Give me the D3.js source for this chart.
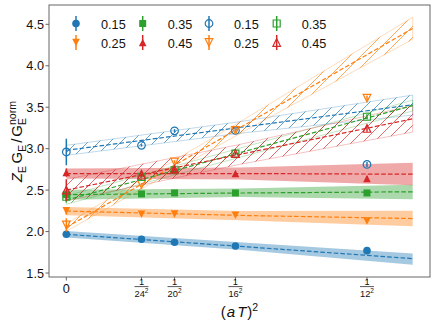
<!DOCTYPE html>
<html>
<head>
<meta charset="utf-8">
<script src="https://cdn.jsdelivr.net/npm/d3@7"></script>
<style>
  body { margin: 0; background: #fff; }
  text { font-family: "Liberation Sans", Arial, sans-serif; fill: #111; }
</style>
</head>
<body>
<div id="wrapper"></div>
<script>
// legend labels (temperatures) and lattice sizes
const tempLabels = ["0.15", "0.25", "0.35", "0.45"]
const latticeNt = [24, 20, 16, 12]
const tickNt = [24, 20, 16, 12]

const bandX = [0, 0.004, 0.008]

// solid markers: continuum value at 0, then Nt = 24, 20, 16, 12
const solidCont = [1.967, 2.250, 2.445, 2.712]
const solidContErr = [0.035, 0.045, 0.055, 0.05]
const solidVals = [
  [1.907, 1.871, 1.826, 1.770],
  [2.209, 2.210, 2.197, 2.128],
  [2.454, 2.466, 2.466, 2.466],
  [2.708, 2.740, 2.700, 2.640],
]
const solidErr = [
  [0.01, 0.01, 0.012, 0.015],
  [0.01, 0.01, 0.012, 0.02],
  [0.01, 0.01, 0.012, 0.015],
  [0.01, 0.012, 0.015, 0.03],
]
const solidFit = [
  [1.967, 1.822, 1.674],
  [2.247, 2.195, 2.157],
  [2.445, 2.465, 2.480],
  [2.700, 2.700, 2.692],
]
const solidLo = [
  [1.927, 1.780, 1.601],
  [2.197, 2.136, 2.064],
  [2.385, 2.418, 2.390],
  [2.640, 2.628, 2.560],
]
const solidHi = [
  [2.007, 1.870, 1.734],
  [2.297, 2.249, 2.250],
  [2.505, 2.520, 2.565],
  [2.760, 2.773, 2.830],
]

// open markers
const openCont = [2.96, 2.08, 2.42, 2.50]
const openContErr = [0.16, 0.08, 0.07, 0.13]
const openVals = [
  [3.040, 3.215, 3.220, 2.810],
  [2.570, 2.840, 3.220, 3.610],
  [2.660, 2.740, 2.940, 3.385],
  [2.680, 2.750, 2.940, 3.244],
]
const openErr = [
  [0.015, 0.02, 0.02, 0.03],
  [0.015, 0.02, 0.025, 0.03],
  [0.015, 0.02, 0.02, 0.03],
  [0.015, 0.02, 0.02, 0.04],
]
const openFit = [
  [2.980, 3.255, 3.530],
  [2.050, 3.250, 4.450],
  [2.380, 2.950, 3.520],
  [2.500, 2.930, 3.360],
]
const openLo = [
  [2.920, 3.185, 3.405],
  [2.005, 3.180, 4.320],
  [2.330, 2.895, 3.455],
  [2.370, 2.810, 3.200],
]
const openHi = [
  [3.040, 3.325, 3.646],
  [2.095, 3.320, 4.585],
  [2.430, 3.005, 3.585],
  [2.630, 3.050, 3.520],
]

const yTicks = [1.5, 2.0, 2.5, 3.0, 3.5, 4.0, 4.5]

const colors = ["#1f77b4", "#ff7f0e", "#2ca02c", "#d62728"]
const shapes = ["circle", "down", "square", "up"]

function drawChart() {
  const dimensions = {
    width: 436,
    height: 327,
    margin: { top: 5, right: 6, bottom: 50, left: 49 },
  }
  dimensions.boundedWidth = dimensions.width - dimensions.margin.left - dimensions.margin.right
  dimensions.boundedHeight = dimensions.height - dimensions.margin.top - dimensions.margin.bottom

  const wrapper = d3.select("#wrapper")
    .append("svg")
      .attr("width", dimensions.width)
      .attr("height", dimensions.height)

  const defs = wrapper.append("defs")
  colors.forEach((c, i) => {
    const p = defs.append("pattern")
      .attr("id", "hatch" + i)
      .attr("patternUnits", "userSpaceOnUse")
      .attr("width", 11)
      .attr("height", 11)
    p.append("path")
      .attr("d", "M-1,12 L12,-1 M-3,2 L2,-3 M9,14 L14,9")
      .attr("stroke", c)
      .attr("stroke-width", 0.85)
      .attr("stroke-opacity", 0.8)
  })

  const bounds = wrapper.append("g")
    .attr("transform", `translate(${dimensions.margin.left},${dimensions.margin.top})`)

  const xScale = d3.scaleLinear()
    .domain([-0.0004, 0.0084])
    .range([0, dimensions.boundedWidth])
  const yScale = d3.scaleLinear()
    .domain([1.452, 4.733])
    .range([dimensions.boundedHeight, 0])

  const clip = defs.append("clipPath").attr("id", "plotclip")
  clip.append("rect").attr("width", dimensions.boundedWidth).attr("height", dimensions.boundedHeight)

  const plot = bounds.append("g").attr("clip-path", "url(#plotclip)")

  const bandArea = (lo, hi) => d3.area()
    .x((d, i) => xScale(bandX[i]))
    .y0((d, i) => yScale(lo[i]))
    .y1((d, i) => yScale(hi[i]))(bandX)
  const fitLine = vals => d3.line()
    .x((d, i) => xScale(bandX[i]))
    .y(d => yScale(d))(vals)

  // filled bands (solid markers)
  colors.forEach((c, i) => {
    plot.append("path")
      .attr("d", bandArea(solidLo[i], solidHi[i]))
      .attr("fill", c)
      .attr("fill-opacity", 0.4)
  })
  // hatched bands (open markers)
  colors.forEach((c, i) => {
    plot.append("path")
      .attr("d", bandArea(openLo[i], openHi[i]))
      .attr("fill", `url(#hatch${i})`)
      .attr("stroke", c)
      .attr("stroke-opacity", 0.28)
      .attr("stroke-width", 1)
  })
  // dashed fit lines
  colors.forEach((c, i) => {
    [solidFit[i], openFit[i]].forEach(f => {
      plot.append("path")
        .attr("d", fitLine(f))
        .attr("fill", "none")
        .attr("stroke", c)
        .attr("stroke-width", 1.2)
        .attr("stroke-dasharray", "4.6,2.1")
    })
  })

  const markerPath = (shape, s) => {
    const h = s / 2
    if (shape === "circle") return d3.symbol(d3.symbolCircle, Math.PI * h * h)()
    if (shape === "square") return `M${-h * 0.92},${-h * 0.92}H${h * 0.92}V${h * 0.92}H${-h * 0.92}Z`
    if (shape === "up") return `M0,${-h}L${h},${h}L${-h},${h}Z`
    return `M0,${h}L${h},${-h}L${-h},${-h}Z`
  }

  const drawPoints = (cont, contErr, vals, errs, open) => {
    colors.forEach((c, i) => {
      const pts = [{ x: 0, y: cont[i], e: contErr[i] }]
        .concat(latticeNt.map((nt, j) => ({ x: 1 / (nt * nt), y: vals[i][j], e: errs[i][j] })))
      const g = plot.append("g")
      g.selectAll("line")
        .data(pts)
        .join("line")
          .attr("x1", d => xScale(d.x))
          .attr("x2", d => xScale(d.x))
          .attr("y1", d => yScale(d.y - d.e))
          .attr("y2", d => yScale(d.y + d.e))
          .attr("stroke", c)
          .attr("stroke-width", 1.5)
      g.selectAll("path")
        .data(pts)
        .join("path")
          .attr("transform", d => `translate(${xScale(d.x)},${yScale(d.y)})`)
          .attr("d", markerPath(shapes[i], 7.6))
          .attr("fill", open ? "none" : c)
          .attr("stroke", c)
          .attr("stroke-width", open ? 1.2 : 0)
    })
  }
  drawPoints(solidCont, solidContErr, solidVals, solidErr, false)
  drawPoints(openCont, openContErr, openVals, openErr, true)

  // frame
  bounds.append("rect")
    .attr("width", dimensions.boundedWidth)
    .attr("height", dimensions.boundedHeight)
    .attr("fill", "none")
    .attr("stroke", "#666")
    .attr("stroke-width", 1)

  // y ticks
  const yAxis = bounds.append("g")
  yTicks.forEach(t => {
    yAxis.append("line")
      .attr("x1", -3.5).attr("x2", 0)
      .attr("y1", yScale(t)).attr("y2", yScale(t))
      .attr("stroke", "#666")
    yAxis.append("text")
      .attr("x", -5)
      .attr("y", yScale(t))
      .attr("dy", "0.36em")
      .attr("text-anchor", "end")
      .attr("font-size", 12.7)
      .text(t.toFixed(1))
  })

  // x ticks
  const xAxis = bounds.append("g").attr("transform", `translate(0,${dimensions.boundedHeight})`)
  const xt = [0].concat(tickNt.map(n => 1 / (n * n)))
  xt.forEach(v => {
    xAxis.append("line")
      .attr("x1", xScale(v)).attr("x2", xScale(v))
      .attr("y1", 0).attr("y2", 3.5)
      .attr("stroke", "#666")
  })
  xAxis.append("text")
    .attr("x", xScale(0))
    .attr("y", 15.8)
    .attr("text-anchor", "middle")
    .attr("font-size", 12.7)
    .text("0")
  tickNt.forEach(n => {
    const x = xScale(1 / (n * n))
    xAxis.append("text")
      .attr("x", x).attr("y", 8)
      .attr("text-anchor", "middle")
      .attr("font-size", 9.3)
      .text("1")
    xAxis.append("line")
      .attr("x1", x - 7).attr("x2", x + 7)
      .attr("y1", 9.6).attr("y2", 9.6)
      .attr("stroke", "#111")
      .attr("stroke-width", 0.7)
    const den = xAxis.append("text")
      .attr("x", x).attr("y", 19.5)
      .attr("text-anchor", "middle")
      .attr("font-size", 9.3)
    den.append("tspan").text(n)
    den.append("tspan").attr("dy", -3.5).attr("font-size", 6.5).text("2")
  })

  // x label
  const xl = wrapper.append("text")
    .attr("x", dimensions.margin.left + dimensions.boundedWidth / 2)
    .attr("y", 317)
    .attr("text-anchor", "middle")
    .attr("font-size", 15)
  xl.append("tspan").text("(")
  xl.append("tspan").attr("font-style", "italic").attr("dx", 1).text("a")
  xl.append("tspan").attr("font-style", "italic").attr("dx", 2).text("T")
  xl.append("tspan").attr("dx", 1).text(")")
  xl.append("tspan").attr("dy", -6.5).attr("font-size", 10.5).text("2")

  // y label
  const ylg = wrapper.append("g")
  const yl = ylg.append("text").attr("font-size", 15)
  yl.append("tspan").attr("font-style", "italic").text("Z")
  yl.append("tspan").attr("font-size", 10.5).attr("dy", 3.5).text("E")
  yl.append("tspan").attr("dy", -3.5).attr("dx", 2.5).text("G")
  yl.append("tspan").attr("font-size", 10.5).attr("dy", 3.5).text("E")
  yl.append("tspan").attr("dy", -3.5).attr("dx", 2).text("/")
  yl.append("tspan").attr("dx", 2).text("G")
  const norm = yl.append("tspan").attr("font-size", 10.5).attr("dy", -6.5).text("norm")
  const nw = norm.node().getComputedTextLength()
  yl.append("tspan").attr("font-size", 10.5).attr("dx", -nw).attr("dy", 10.5).text("E")
  const bb = yl.node().getBBox()
  yl.attr("x", -bb.width / 2)
  ylg.attr("transform", `translate(22,${dimensions.margin.top + dimensions.boundedHeight / 2}) rotate(-90)`)

  // legend: 4 columns, column-major
  const legendItems = []
  ;[false, true].forEach(open => {
    colors.forEach((c, i) => legendItems.push({ c, i, open }))
  })
  const colMarkerX = [76, 142.7, 209, 276.7]
  const rowY = [23.5, 42.5]
  const legend = wrapper.append("g")
  legendItems.forEach((d, k) => {
    const col = Math.floor(k / 2)
    const row = k % 2
    const mx = colMarkerX[col]
    const my = rowY[row]
    legend.append("line")
      .attr("x1", mx).attr("x2", mx)
      .attr("y1", my - 7.5).attr("y2", my + 7.5)
      .attr("stroke", d.c)
      .attr("stroke-width", 1.5)
    legend.append("path")
      .attr("transform", `translate(${mx},${my})`)
      .attr("d", markerPath(shapes[d.i], 7.6))
      .attr("fill", d.open ? "none" : d.c)
      .attr("stroke", d.c)
      .attr("stroke-width", d.open ? 1.2 : 0)
    legend.append("text")
      .attr("x", mx + 25)
      .attr("y", my + 5.2)
      .attr("font-size", 12.7)
      .text(tempLabels[d.i])
  })
}

drawChart()
</script>
</body>
</html>
